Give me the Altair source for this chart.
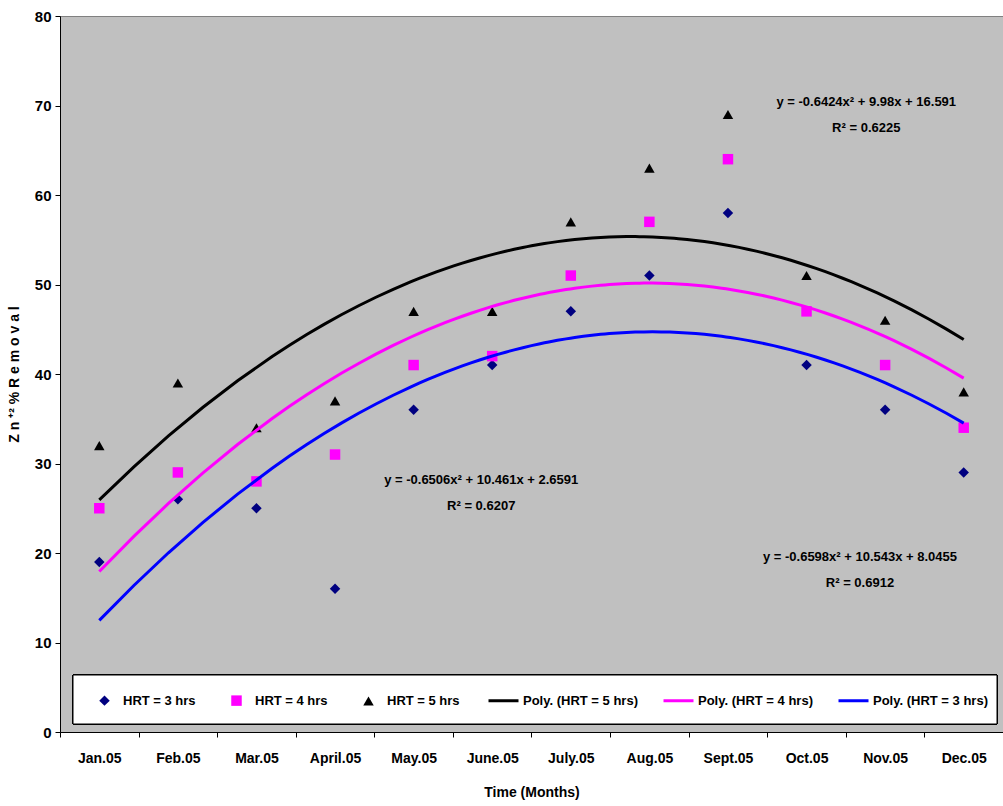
import altair as alt
import pandas as pd

months = ['Jan.05', 'Feb.05', 'Mar.05', 'April.05', 'May.05', 'June.05',
          'July.05', 'Aug.05', 'Sept.05', 'Oct.05', 'Nov.05', 'Dec.05']
hrt3 = [19, 26, 25, 16, 36, 41, 47, 51, 58, 41, 36, 29]
hrt4 = [25, 29, 28, 31, 41, 42, 51, 57, 64, 47, 41, 34]
hrt5 = [32, 39, 34, 37, 47, 47, 57, 63, 69, 51, 46, 38]

series_names = ['HRT = 3 hrs', 'HRT = 4 hrs', 'HRT = 5 hrs']
point_colors = ['#000080', '#FF00FF', '#000000']
point_shapes = ['diamond', 'square', 'triangle-up']
line_names = ['Poly. (HRT = 5 hrs)', 'Poly. (HRT = 4 hrs)', 'Poly. (HRT = 3 hrs)']
line_colors = ['#000000', '#FF00FF', '#0000FF']

eq_text = ['y = -0.6424x² + 9.98x + 16.591', 'R² = 0.6225',
           'y = -0.6506x² + 10.461x + 2.6591', 'R² = 0.6207',
           'y = -0.6598x² + 10.543x + 8.0455', 'R² = 0.6912']
eq_x = [10.76, 10.76, 5.86, 5.86, 10.68, 10.68]
eq_y = [70.4, 67.5, 28.2, 25.2, 19.5, 16.6]

rows = []
for name, vals in zip(series_names, [hrt3, hrt4, hrt5]):
    for i, (m, v) in enumerate(zip(months, vals)):
        rows.append({'month': m, 'idx': i + 1, 'series': name, 'value': v})
df = pd.DataFrame(rows)
eq_df = pd.DataFrame({'text': eq_text, 'x': eq_x, 'y': eq_y})

FONT = 'Liberation Sans, Arial, sans-serif'

leg_points = alt.Legend(title=None, orient='none', legendX=38, legendY=678,
                        direction='horizontal', columns=3, padding=0,
                        columnPadding=32, labelOffset=12, symbolSize=110,
                        labelFont=FONT, labelFontSize=13, labelFontWeight='bold',
                        labelColor='black', labelLimit=300)
leg_lines = alt.Legend(title=None, orient='none', legendX=427, legendY=668,
                       direction='horizontal', columns=3, padding=0,
                       columnPadding=19, labelOffset=3, symbolType='stroke',
                       symbolSize=900, symbolStrokeWidth=3,
                       labelFont=FONT, labelFontSize=13, labelFontWeight='bold',
                       labelColor='black', labelLimit=300)

yscale = alt.Scale(domain=[0, 80], nice=False)
xlin = alt.Scale(domain=[0.5, 12.5], nice=False, zero=False)

legend_box = alt.Chart(df).mark_rect(fill='white', stroke='black', strokeWidth=1).encode(
    x=alt.value(13), x2=alt.value(937), y=alt.value(659), y2=alt.value(708)
)

points = alt.Chart(df).mark_point(filled=True, opacity=1, size=110).encode(
    x=alt.X('month:N', sort=months,
            scale=alt.Scale(paddingInner=0, paddingOuter=0),
            axis=alt.Axis(title='Time (Months)', tickBand='extent', labelAngle=0,
                          labelFont=FONT, labelFontSize=14, labelFontWeight='bold',
                          labelColor='black', labelPadding=14, tickSize=5,
                          tickColor='black', domainColor='black',
                          titleFont=FONT, titleFontSize=14, titleFontWeight='bold',
                          titleColor='black', titlePadding=20)),
    y=alt.Y('value:Q', scale=yscale,
            axis=alt.Axis(title='Z n ⁺² % R e m o v a l', values=list(range(0, 81, 10)),
                          grid=False, labelFont=FONT, labelFontSize=15,
                          labelFontWeight='bold', labelColor='black', tickSize=5,
                          tickColor='black', domainColor='black', labelPadding=4,
                          titleFont=FONT, titleFontSize=14, titleFontWeight='bold',
                          titleColor='black', titlePadding=13)),
    fill=alt.Fill('series:N', scale=alt.Scale(domain=series_names, range=point_colors),
                  legend=leg_points),
    shape=alt.Shape('series:N', scale=alt.Scale(domain=series_names, range=point_shapes),
                    legend=leg_points),
)

lines = alt.Chart(df).transform_regression(
    'idx', 'value', method='poly', order=2, groupby=['series'], extent=[1, 12]
).transform_calculate(
    series="'Poly. (' + datum.series + ')'"
).mark_line(strokeWidth=3).encode(
    x=alt.X('idx:Q', scale=xlin, axis=None),
    y=alt.Y('value:Q', scale=yscale),
    stroke=alt.Stroke('series:N', scale=alt.Scale(domain=line_names, range=line_colors),
                      legend=leg_lines),
)

texts = alt.Chart(eq_df).mark_text(font=FONT, fontSize=13, fontWeight='bold',
                                   color='black', align='center', baseline='middle').encode(
    x=alt.X('x:Q', scale=xlin, axis=None),
    y=alt.Y('y:Q', scale=yscale),
    text='text:N',
)

chart = alt.layer(points, alt.layer(legend_box, lines, texts)).resolve_scale(
    x='independent'
).properties(
    width=943, height=716,
    autosize=alt.AutoSizeParams(type='none'),
    padding={'left': 60, 'top': 16, 'right': 0, 'bottom': 74},
    background='white',
).configure_view(
    fill='#C0C0C0', stroke='#808080', strokeWidth=1
)

chart.save('out.html', embed_options={'renderer': 'svg', 'actions': False})
